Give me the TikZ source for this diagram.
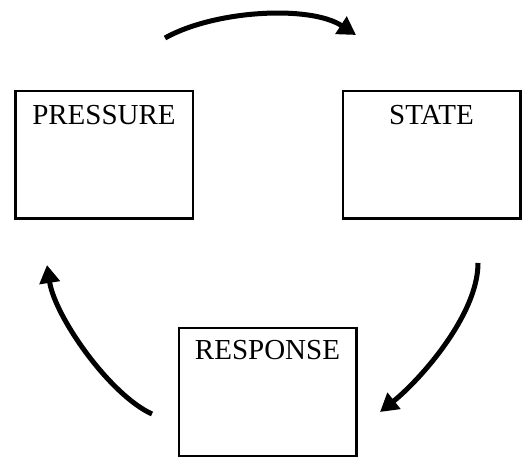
\documentclass[tikz,border=0pt]{standalone}
\usepackage{fontspec}
\setmainfont{Liberation Serif}
\usetikzlibrary{positioning,arrows.meta}
\begin{document}
\begin{tikzpicture}[x=1pt,y=1pt]
        \tikzstyle{box_style} = [rectangle,draw=black,line width=2.5pt,minimum width=177.5pt,minimum height=127.5pt,inner sep=0pt]
        \tikzstyle{label_style} = [inner sep=0pt,font=\fontsize{29}{31}\selectfont]
        \tikzstyle{arrow_style} = [draw=black,line width=5pt,-{Triangle[length=18pt,width=20pt]}]
        \useasboundingbox (0,0) rectangle (529,457);
        \node[box_style] (pressure) at (104,302) {};
        \node[box_style] (state) at (431.5,302) {};
        \node[box_style] (response) at (267.5,65) {};
        \node[label_style,anchor=north,below=15pt of pressure.north] (pressure_label) {PRESSURE};
        \node[label_style,anchor=north,below=15pt of state.north] (state_label) {STATE};
        \node[label_style,anchor=north,below=13pt of response.north] (response_label) {RESPONSE};
        \coordinate (a1) at (165,419);
        \coordinate (a2) at (356,422);
        \coordinate (b1) at (478,194);
        \coordinate (b2) at (380,45);
        \coordinate (d1) at (152,43);
        \coordinate (d2) at (47,192);
        \draw[arrow_style] (a1) .. controls (215,447) and (310,452) .. (a2);
        \draw[arrow_style] (b1) .. controls (478,142) and (420,77) .. (b2);
        \draw[arrow_style] (d1) .. controls (110,62) and (55,140) .. (d2);
      \end{tikzpicture}
\end{document}
